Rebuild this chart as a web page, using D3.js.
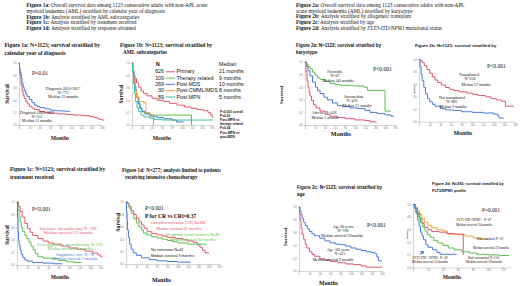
<!DOCTYPE html>
<html>
<head>
<meta charset="utf-8">
<script src="https://cdn.jsdelivr.net/npm/d3@7"></script>
<style>
  body { margin: 0; background: #fff; }
  svg  { display: block; }
</style>
</head>
<body>
<div id="vis"></div>
<script>
// Eight Kaplan-Meier panels (AML survival), redrawn from a poster figure.
// Curves are [month, survival] steps.

// ── Header captions ──────────────────────────────────────────────────────────
const HEAD_LEFT = [
  ["Figure 1a:", " Overall survival data among 1123 consecutive adults with non-APL acute"],
  ["",           "myeloid leukemia (AML) stratified by calendar year of diagnosis"],
  ["Figure 1b:", " Analysis stratified by AML subcategories"],
  ["Figure 1c:", " Analysis stratified by treatment received"],
  ["Figure 1d:", " Analysis stratified by response obtained"],
];
const HEAD_RIGHT = [
  ["Figure 2a:", " Overall survival data among 1123 consecutive adults with non-APL"],
  ["",           "acute myeloid leukemia (AML) stratified by karyotype"],
  ["Figure 2b:", " Analysis stratified by allogeneic transplant"],
  ["Figure 2c:", " Analysis stratified by age"],
  ["Figure 2d:", " Analysis stratified by "],
];

// ── Tick values ──────────────────────────────────────────────────────────────
const Y_TICKS     = [0, 0.2, 0.4, 0.6, 0.8, 1.0];
const X_TICKS_160 = [0, 20, 40, 60, 80, 100, 120, 140, 160];
const X_TICKS_180 = [0, 20, 40, 60, 80, 100, 120, 140, 160, 180];
const X_TICKS_120 = [0, 20, 40, 60, 80, 100, 120];

// ── 1a: calendar year ────────────────────────────────────────────────────────
const P1A_NEW = [[0,1],[1,0.92],[2,0.85],[4,0.75],[6,0.67],[8,0.61],[10,0.56],[13,0.5],[16,0.46],[20,0.41],[25,0.36],[30,0.32],[35,0.3],[40,0.28],[50,0.26],[60,0.24],[70,0.23],[80,0.225],[90,0.22],[98,0.215]];
const P1A_OLD = [[0,1],[1,0.9],[2,0.8],[4,0.64],[6,0.55],[8,0.48],[10,0.43],[13,0.38],[16,0.34],[20,0.3],[25,0.27],[30,0.25],[40,0.22],[50,0.2],[60,0.19],[75,0.18],[90,0.17],[105,0.16],[120,0.15],[135,0.14],[145,0.12],[150,0.11],[155,0.09],[160,0.08],[164,0.08]];

// ── 1b: AML subcategories ───────────────────────────────────────────────────
const P1B_GROUPS  = ["Primary", "Therapy related", "Post MDS", "Post-CMML/MDS", "Post MPN"];
const P1B_N       = [626, 109, 269, 30, 89];
const P1B_MEDIAN  = ["21 months", "9 months", "10 months", "8 months", "5 months"];
const P1B_PVALUES = ["P<0.001 overall", "P=0.03", "Post-MPN vs", "therapy related", "P=0.04", "Post-MPN vs", "post-MDS"];
const P1B_PRIMARY = [[0,1],[2,0.88],[4,0.8],[6,0.75],[9,0.68],[13,0.61],[18,0.55],[23,0.51],[30,0.47],[40,0.43],[50,0.4],[62,0.38],[75,0.35],[90,0.32],[105,0.29],[118,0.27],[130,0.25],[143,0.23],[152,0.2],[157,0.17],[160,0.13],[162,0.12]];
const P1B_THERAPY = [[0,1],[2,0.82],[4,0.66],[6,0.56],[9,0.45],[12,0.35],[16,0.27],[20,0.21],[26,0.18],[36,0.16],[119,0.16],[119,0]];
const P1B_POSTMDS = [[0,1],[2,0.86],[4,0.74],[6,0.62],[8,0.52],[10,0.44],[13,0.34],[16,0.27],[20,0.22],[26,0.18],[36,0.14],[50,0.12],[63,0.1],[80,0.08],[89,0.05],[103,0.05]];
const P1B_CMML    = [[0,1],[3,0.75],[6,0.55],[9,0.45],[14,0.38],[24,0.36],[28,0.2],[36,0.17],[40,0.13],[43,0]];
const P1B_MPN     = [[0,1],[1,0.85],[3,0.66],[5,0.5],[7,0.38],[10,0.28],[13,0.22],[18,0.16],[24,0.13],[35,0.11],[45,0.09],[60,0.08],[162,0.08]];

// ── 1c: treatment ────────────────────────────────────────────────────────────
const P1C_INTENSIVE = [[0,1],[3,0.93],[6,0.85],[10,0.76],[15,0.66],[20,0.58],[25,0.52],[30,0.47],[40,0.42],[50,0.38],[60,0.35],[70,0.33],[85,0.3],[100,0.27],[115,0.25],[130,0.22],[145,0.19],[155,0.16],[160,0.13],[164,0.13]];
const P1C_LESS      = [[0,1],[2,0.88],[4,0.77],[6,0.68],[8,0.6],[11,0.53],[15,0.47],[19,0.42],[23,0.36],[27,0.3],[31,0.24],[35,0.18],[40,0.13],[50,0.11],[65,0.1],[80,0.07],[95,0.05],[110,0.04],[124,0.04]];
const P1C_SUPPORT   = [[0,1],[1,0.75],[2,0.52],[3,0.4],[4,0.32],[6,0.24],[8,0.17],[11,0.12],[15,0.08],[20,0.06],[30,0.04],[50,0.03],[70,0.02],[87,0.02]];

// ── 1d: response ─────────────────────────────────────────────────────────────
const P1D_CR   = [[0,1],[3,0.98],[6,0.93],[10,0.86],[15,0.8],[20,0.74],[25,0.68],[30,0.63],[35,0.58],[41,0.52],[50,0.49],[60,0.47],[70,0.45],[80,0.43],[95,0.41],[110,0.39],[120,0.37],[130,0.35],[138,0.31],[143,0.27],[148,0.22],[153,0.18],[160,0.17]];
const P1D_CRI  = [[0,1],[3,0.97],[6,0.9],[10,0.82],[15,0.73],[20,0.66],[25,0.6],[30,0.55],[34,0.5],[40,0.47],[50,0.44],[60,0.42],[70,0.4],[80,0.38],[90,0.36],[100,0.34],[120,0.32],[156,0.32]];
const P1D_NONE = [[0,1],[1,0.85],[2,0.7],[3,0.55],[5,0.42],[7,0.32],[10,0.24],[14,0.18],[20,0.14],[30,0.1],[45,0.07],[60,0.05],[80,0.04],[100,0.03],[124,0.02]];

// ── 2a: karyotype ────────────────────────────────────────────────────────────
const P2A_FAV = [[0,1],[3,0.97],[6,0.93],[10,0.89],[15,0.84],[20,0.79],[25,0.75],[30,0.72],[40,0.69],[50,0.66],[60,0.64],[70,0.63],[95,0.62],[118,0.6],[125,0.55],[160,0.55],[160,0.22],[172,0.22]];
const P2A_INT = [[0,1],[3,0.93],[6,0.86],[10,0.78],[15,0.68],[21,0.6],[25,0.55],[30,0.5],[38,0.44],[45,0.4],[55,0.35],[65,0.31],[75,0.29],[90,0.27],[105,0.26],[120,0.23],[130,0.2],[145,0.18],[160,0.16],[172,0.14],[178,0.14]];
const P2A_ADV = [[0,1],[2,0.85],[4,0.7],[6,0.6],[8,0.52],[10,0.46],[13,0.39],[17,0.32],[22,0.27],[30,0.22],[40,0.17],[50,0.14],[65,0.12],[80,0.1],[100,0.08],[120,0.07],[130,0.05],[143,0.05]];

// ── 2b: transplant ───────────────────────────────────────────────────────────
const P2B_TX   = [[0,1],[3,0.98],[6,0.95],[10,0.9],[15,0.84],[20,0.78],[25,0.72],[30,0.67],[35,0.63],[42,0.59],[50,0.55],[57,0.52],[65,0.5],[75,0.48],[90,0.46],[100,0.44],[110,0.42],[125,0.4],[135,0.37],[145,0.35],[155,0.33],[162,0.25],[178,0.25]];
const P2B_NOTX = [[0,1],[2,0.88],[4,0.76],[6,0.66],[9,0.55],[12,0.45],[16,0.37],[20,0.32],[25,0.28],[30,0.25],[40,0.21],[50,0.19],[65,0.18],[80,0.16],[100,0.15],[120,0.14],[140,0.12],[148,0.1],[150,0.06],[158,0.05]];

// ── 2c: age ──────────────────────────────────────────────────────────────────
const P2C_YOUNG = [[0,1],[2,0.94],[4,0.88],[6,0.82],[9,0.76],[12,0.71],[16,0.66],[20,0.62],[25,0.58],[30,0.55],[40,0.51],[50,0.47],[60,0.44],[70,0.42],[80,0.41],[90,0.39],[100,0.36],[110,0.34],[120,0.32],[130,0.3],[140,0.29],[146,0.27],[150,0.22],[153,0.16],[160,0.16]];
const P2C_OLD   = [[0,1],[1,0.9],[2,0.8],[4,0.67],[6,0.57],[9,0.49],[12,0.42],[15,0.36],[20,0.3],[25,0.26],[30,0.23],[40,0.19],[50,0.17],[60,0.15],[75,0.13],[90,0.11],[105,0.1],[120,0.08],[130,0.06],[160,0.06]];

// ── 2d: FLT3/NPM1 ────────────────────────────────────────────────────────────
const P2D_NPM  = [[0,1],[3,0.96],[6,0.9],[9,0.84],[12,0.78],[15,0.72],[20,0.67],[25,0.63],[32,0.6],[40,0.58],[46,0.53],[60,0.52],[70,0.5],[80,0.47],[90,0.45],[100,0.45]];
const P2D_BOTH = [[0,1],[3,0.94],[6,0.86],[9,0.77],[12,0.7],[15,0.64],[20,0.6],[25,0.57],[35,0.56],[45,0.54],[55,0.53],[67,0.53],[67,0.21],[68,0.21]];
const P2D_NONE = [[0,1],[2,0.95],[4,0.88],[7,0.8],[10,0.71],[13,0.64],[16,0.58],[19,0.52],[23,0.48],[28,0.43],[33,0.39],[40,0.35],[47,0.31],[55,0.28],[65,0.25],[75,0.23],[85,0.21],[100,0.2],[115,0.19],[128,0.19]];
const P2D_ITD  = [[0,1],[2,0.94],[4,0.86],[6,0.76],[8,0.66],[10,0.56],[12,0.5],[14,0.44],[17,0.36],[20,0.32],[26,0.28],[32,0.24],[36,0.21],[58,0.21]];

// ── Setup ────────────────────────────────────────────────────────────────────

const SERIF = "'Liberation Serif','Times New Roman',serif";
const SANS  = "'Liberation Sans',Arial,sans-serif";

const RED    = "#e2566e";
const BLUE   = "#4a7bd6";
const GREEN  = "#5cbf4c";
const ORANGE = "#f0a23c";
const TEAL   = "#3ec3a4";

const svg = d3.select("#vis").append("svg")
  .attr("width", 520)
  .attr("height", 286);

function label(x, y, str, o = {}) {
  return svg.append("text")
    .attr("x", x).attr("y", y)
    .attr("text-anchor", o.anchor || "start")
    .style("font-family", o.font || SERIF)
    .style("font-size", (o.size || 4) + "px")
    .style("font-weight", o.bold ? "bold" : "normal")
    .style("font-style", o.italic ? "italic" : "normal")
    .style("fill", o.color || "#111")
    .text(str);
}

function header(x, y0, lines, tail) {
  lines.forEach(([b, rest], i) => {
    const t = svg.append("text")
      .attr("x", x).attr("y", y0 + i * 5.7)
      .style("font-family", SERIF).style("font-size", "5.3px").style("fill", "#111");
    if (b) t.append("tspan").style("font-weight", "bold").text(b);
    t.append("tspan").text(rest);
    if (tail && i === lines.length - 1) tail(t);
  });
}

function yTitle(x, y, str, size) {
  svg.append("text")
    .attr("transform", `translate(${x},${y}) rotate(-90)`)
    .attr("text-anchor", "middle")
    .style("font-family", SERIF).style("font-weight", "bold")
    .style("font-size", size + "px").style("fill", "#111")
    .text(str);
}

// One KM panel: scales, grey axes, step curves
function panel(p) {
  const x = d3.scaleLinear().domain([0, p.xMax]).range([p.left, p.right]);
  const y = d3.scaleLinear().domain([0, 1]).range([p.bottom, p.top]);
  const g = svg.append("g");

  g.append("g")
    .attr("transform", `translate(0,${p.bottom})`)
    .call(d3.axisBottom(x).tickValues(p.xTicks).tickSize(1).tickPadding(1))
    .call(ax => ax.select(".domain").attr("stroke", "#aaa").attr("stroke-width", 0.5))
    .call(ax => ax.selectAll(".tick line").attr("stroke", "#aaa").attr("stroke-width", 0.4))
    .call(ax => ax.selectAll("text").style("font-size", "2.6px").style("fill", "#777")
      .style("font-family", SANS));

  g.append("g")
    .attr("transform", `translate(${p.left},0)`)
    .call(d3.axisLeft(y).tickValues(Y_TICKS).tickFormat(d3.format(".1f")).tickSize(1).tickPadding(1.2))
    .call(ax => ax.select(".domain").attr("stroke", "#aaa").attr("stroke-width", 0.5))
    .call(ax => ax.selectAll(".tick line").attr("stroke", "#aaa").attr("stroke-width", 0.4))
    .call(ax => ax.selectAll("text").style("font-size", "2.6px").style("fill", "#777")
      .style("font-family", SANS));

  const line = d3.line()
    .x(d => x(d[0]))
    .y(d => y(d[1]))
    .curve(d3.curveStepAfter);

  p.curves.forEach(c => {
    g.append("path")
      .attr("d", line(c.data))
      .attr("fill", "none")
      .attr("stroke", c.color)
      .attr("stroke-width", 1);
  });
  return { x, y };
}

// ── Headers ──────────────────────────────────────────────────────────────────

header(26.5, 7.2, HEAD_LEFT);
header(296, 6.8, HEAD_RIGHT, t => {
  t.append("tspan").style("font-style", "italic").text("FLT3-ITD/NPM1");
  t.append("tspan").text(" mutational status");
});

// ── Panel 1a ─────────────────────────────────────────────────────────────────

label(4.5, 47, "Figure 1a: N=1123; survival stratified by", { bold: true, size: 5.5 });
label(4.5, 54.5, "calendar year of diagnosis", { bold: true, size: 5.5 });
panel({
  left: 19, right: 102, top: 63, bottom: 125, xMax: 160, xTicks: X_TICKS_160,
  curves: [{ data: P1A_OLD, color: RED }, { data: P1A_NEW, color: BLUE }],
});
label(32, 75, "P=0.01", { size: 5.6 });
label(63, 89.5, "Diagnosis 2010-2017", { size: 4, anchor: "middle" });
label(63, 93.8, "N=772", { size: 4, anchor: "middle" });
label(63, 98.1, "Median 15 months", { size: 4, anchor: "middle" });
label(37, 113.5, "Diagnosis 2000-2009", { size: 4, anchor: "middle" });
label(37, 117.8, "N=351", { size: 4, anchor: "middle" });
label(37, 122.1, "Median 11 months", { size: 4, anchor: "middle" });
yTitle(8.5, 94, "Survival", 5.4);
label(60, 139.5, "Months", { bold: true, size: 5.6, anchor: "middle" });

// ── Panel 1b ─────────────────────────────────────────────────────────────────

label(120, 47, "Figure 1b: N=1123; survival stratified by", { bold: true, size: 5.3 });
label(123, 54, "AML subcategories", { bold: true, size: 5.3 });
const P1B_CURVES = [P1B_PRIMARY, P1B_THERAPY, P1B_POSTMDS, P1B_CMML, P1B_MPN];
const P1B_COLORS = [RED, GREEN, BLUE, ORANGE, TEAL];
panel({
  left: 132, right: 212, top: 63, bottom: 125, xMax: 160, xTicks: X_TICKS_160,
  curves: P1B_CURVES.map((d, i) => ({ data: d, color: P1B_COLORS[i] })),
});
yTitle(122.5, 94, "Survival", 5.2);
label(162, 139.5, "Months", { bold: true, size: 5.6, anchor: "middle" });

// legend block (clipped on the right like the source)
svg.append("clipPath").attr("id", "lgclip")
  .append("rect").attr("x", 140).attr("y", 55).attr("width", 78).attr("height", 50);
const lg = svg.append("g").attr("clip-path", "url(#lgclip)");
lg.append("text").attr("x", 156).attr("y", 66)
  .style("font-family", SANS).style("font-weight", "bold").style("font-size", "5px").text("N");
P1B_GROUPS.forEach((name, i) => {
  const yy = 73.4 + i * 6.3;
  lg.append("text").attr("x", 164).attr("y", yy).attr("text-anchor", "end")
    .style("font-family", SANS).style("font-size", "5.3px").style("fill", "#111").text(P1B_N[i]);
  lg.append("line").attr("x1", 165.5).attr("x2", 175).attr("y1", yy - 1.6).attr("y2", yy - 1.6)
    .attr("stroke", P1B_COLORS[i]).attr("stroke-width", 1);
  lg.append("text").attr("x", 176.5).attr("y", yy)
    .style("font-family", SANS).style("font-size", "5.3px").style("fill", "#111").text(name);
});
label(219, 66, "Median", { font: SANS, size: 5.3 });
P1B_MEDIAN.forEach((m, i) => label(219, 73.4 + i * 6.3, m, { font: SANS, size: 5.3 }));
P1B_PVALUES.forEach((t, i) => label(220, 112.5 + i * 4.2, t, { font: SANS, size: 3.2, bold: true }));

// ── Panel 1c ─────────────────────────────────────────────────────────────────

label(10, 171, "Figure 1c: N=1123; survival stratified by", { bold: true, size: 5.5 });
label(10, 178.5, "treatment received", { bold: true, size: 5.5 });
panel({
  left: 17, right: 100.5, top: 202, bottom: 265, xMax: 160, xTicks: X_TICKS_160,
  curves: [
    { data: P1C_INTENSIVE, color: RED },
    { data: P1C_LESS, color: GREEN },
    { data: P1C_SUPPORT, color: BLUE },
  ],
});
label(32, 211, "P<0.001", { size: 5.6 });
label(68, 230, "Intensive chemotherapy N=766", { size: 4.5, color: RED, anchor: "middle" });
label(68, 234.4, "Median survival 22 months", { size: 4.5, color: RED, anchor: "middle" });
label(70, 246.2, "Less aggressive chemotherapy N=266", { size: 4.3, color: GREEN, anchor: "middle" });
label(70, 250.4, "Median survival 9 months", { size: 4.3, color: GREEN, anchor: "middle" });
label(75, 255.6, "Supportive care N=78", { size: 4.3, color: BLUE, anchor: "middle" });
label(75, 259.8, "Median survival 2 months", { size: 4.3, color: BLUE, anchor: "middle" });
yTitle(8.5, 235, "Survival", 5.4);
label(60, 278.5, "Months", { bold: true, size: 5.6, anchor: "middle" });

// ── Panel 1d ─────────────────────────────────────────────────────────────────

label(122, 172, "Figure 1d: N=277; analysis limited to patients", { bold: true, size: 5.1 });
label(125, 179, "receiving intensive chemotherapy", { bold: true, size: 5.1 });
panel({
  left: 126, right: 219, top: 202, bottom: 264, xMax: 180, xTicks: X_TICKS_180,
  curves: [
    { data: P1D_CR, color: RED },
    { data: P1D_CRI, color: GREEN },
    { data: P1D_NONE, color: BLUE },
  ],
});
label(145, 210, "P<0.001", { size: 5.6 });
label(145, 217.8, "P for CR vs CRi=0.37", { size: 5.6, bold: true });
label(178, 224.3, "Complete remission (CR) N=333", { font: SANS, size: 3.8, color: RED, anchor: "middle" });
label(179, 229.6, "Median survival 41 months", { font: SANS, size: 3.8, color: RED, anchor: "middle" });
label(192, 235.8, "CR without count recovery N=46", { font: SANS, size: 3.8, color: GREEN, anchor: "middle" });
label(193, 240.6, "Median survival 34 months", { font: SANS, size: 3.8, color: GREEN, anchor: "middle" });
label(151, 251.3, "No remission N=42", { font: SANS, size: 3.8 });
label(151, 257, "Median survival 3 months", { font: SANS, size: 3.8 });
yTitle(119.5, 222, "Survival", 5.2);
label(161.5, 281.5, "Months", { bold: true, size: 5.8, anchor: "middle" });

// ── Panel 2a ─────────────────────────────────────────────────────────────────

label(296, 47, "Figure 2a: N=1123; survival stratified by", { font: SANS, bold: true, size: 4.5 });
label(296, 53.5, "karyotype", { font: SANS, bold: true, size: 4.5 });
panel({
  left: 305, right: 395, top: 62, bottom: 125, xMax: 180, xTicks: X_TICKS_180,
  curves: [
    { data: P2A_FAV, color: GREEN },
    { data: P2A_INT, color: BLUE },
    { data: P2A_ADV, color: RED },
  ],
});
label(373, 70.5, "P<0.001", { size: 5.6 });
label(335, 72.8, "Favorable", { size: 3.9, anchor: "middle" });
label(335, 77, "N=67", { size: 3.9, anchor: "middle" });
label(338, 81.5, "Median 145 months", { size: 3.9, anchor: "middle" });
label(354, 97.8, "Intermediate", { size: 3.9, anchor: "middle" });
label(352, 102, "N=470", { size: 3.9, anchor: "middle" });
label(357, 107, "Median 21 months", { size: 3.9, anchor: "middle" });
label(324, 114.2, "Adverse N=426", { size: 3.9, anchor: "middle" });
label(325, 119.2, "Median 5 months", { size: 3.9, anchor: "middle" });
yTitle(283, 95, "Survival", 5);
label(341, 136, "Months", { bold: true, size: 6.2, anchor: "middle" });

// ── Panel 2b ─────────────────────────────────────────────────────────────────

label(415, 46.5, "Figure 2b: N=1123; survival stratified by", { font: SANS, bold: true, size: 4.3 });
panel({
  left: 419, right: 515, top: 59.5, bottom: 121.7, xMax: 180, xTicks: X_TICKS_180,
  curves: [{ data: P2B_TX, color: RED }, { data: P2B_NOTX, color: BLUE }],
});
label(487, 67.5, "P<0.001", { size: 5.6 });
label(469, 76.2, "Transplanted", { size: 3.9, anchor: "middle" });
label(470, 80.4, "N=226", { size: 3.9, anchor: "middle" });
label(476, 85.5, "Median 57 months", { size: 3.9, anchor: "middle" });
label(452, 98.8, "Not transplanted", { size: 3.9, anchor: "middle" });
label(452, 103, "N=882", { size: 3.9, anchor: "middle" });
label(453, 108, "Median 9 months", { size: 3.9, anchor: "middle" });
yTitle(414.5, 90, "Survival", 2.4);
label(463, 134.5, "Months", { bold: true, size: 5.6, anchor: "middle" });

// ── Panel 2c ─────────────────────────────────────────────────────────────────

label(297, 189, "Figure 2c: N=1123; survival stratified by", { font: SANS, bold: true, size: 4.5 });
label(297, 195.5, "age", { font: SANS, bold: true, size: 4.5 });
panel({
  left: 299, right: 382, top: 207, bottom: 271, xMax: 160, xTicks: X_TICKS_160,
  curves: [{ data: P2C_YOUNG, color: BLUE }, { data: P2C_OLD, color: RED }],
});
label(367, 226.5, "P<0.001", { size: 5.6 });
label(343, 227.5, "Age 60 years", { size: 3.9, anchor: "middle" });
label(343, 231.9, "N=708", { size: 3.9, anchor: "middle" });
label(342, 237.4, "Median survival 22months", { size: 3.9, anchor: "middle" });
label(338, 250.8, "Age >60 years", { size: 3.9, anchor: "middle" });
label(340, 254.6, "N=415", { size: 3.9, anchor: "middle" });
label(333, 260.8, "Median survival 9 months", { size: 3.9, anchor: "middle" });
yTitle(286.5, 237, "Survival", 5);
label(328.5, 285, "Months", { bold: true, size: 5.8, anchor: "middle" });

// ── Panel 2d ─────────────────────────────────────────────────────────────────

label(432, 185, "Figure 2d: N=392; survival stratified by", { font: SANS, bold: true, size: 3.9 });
label(432, 191.5, "FLT3/NPM1 profile", { font: SANS, bold: true, size: 3.9 });
const p2d = panel({
  left: 413, right: 510.5, top: 204.5, bottom: 267.5, xMax: 130, xTicks: X_TICKS_120,
  curves: [
    { data: P2D_NPM, color: ORANGE },
    { data: P2D_BOTH, color: RED },
    { data: P2D_NONE, color: GREEN },
    { data: P2D_ITD, color: BLUE },
  ],
});
label(482, 211.5, "P=0.001", { size: 5.3 });
label(474, 221.3, "FLT3-ITD-/NPM1+ N=67", { size: 3.3, italic: true, anchor: "middle" });
label(474, 226.3, "Median survival 34 months", { size: 3.3, anchor: "middle" });
label(490, 240.3, "Both mutated N=59", { size: 3.3, italic: true, anchor: "middle" });
label(491, 248.5, "Median survival 22 months", { size: 3.3, anchor: "middle" });
label(430, 258.5, "FLT3-ITD+/NPM1- N=50", { size: 3.3, italic: true, anchor: "middle" });
label(430, 263.4, "Median survival 12 months", { size: 3.3, anchor: "middle" });
label(483.5, 258.5, "Both unmutated N=216", { size: 3.3, italic: true, anchor: "middle" });
label(484, 263.4, "Median survival 19 months", { size: 3.3, anchor: "middle" });
yTitle(407.5, 235, "Survival", 2.4);
label(452, 279, "Months", { bold: true, size: 5.6, anchor: "middle" });

// small arrow pointing at the FLT3-ITD+/NPM1- curve
{
  const ax = p2d.x(9), ay = p2d.y(0.2);
  svg.append("path")
    .attr("d", `M${ax},${ay} l3.2,-3.2 M${ax + 3.6},${ay - 3.6} l-2.6,0.4 l2.2,2.2 z`)
    .attr("stroke", BLUE).attr("stroke-width", 1).attr("fill", BLUE);
}
</script>
</body>
</html>
